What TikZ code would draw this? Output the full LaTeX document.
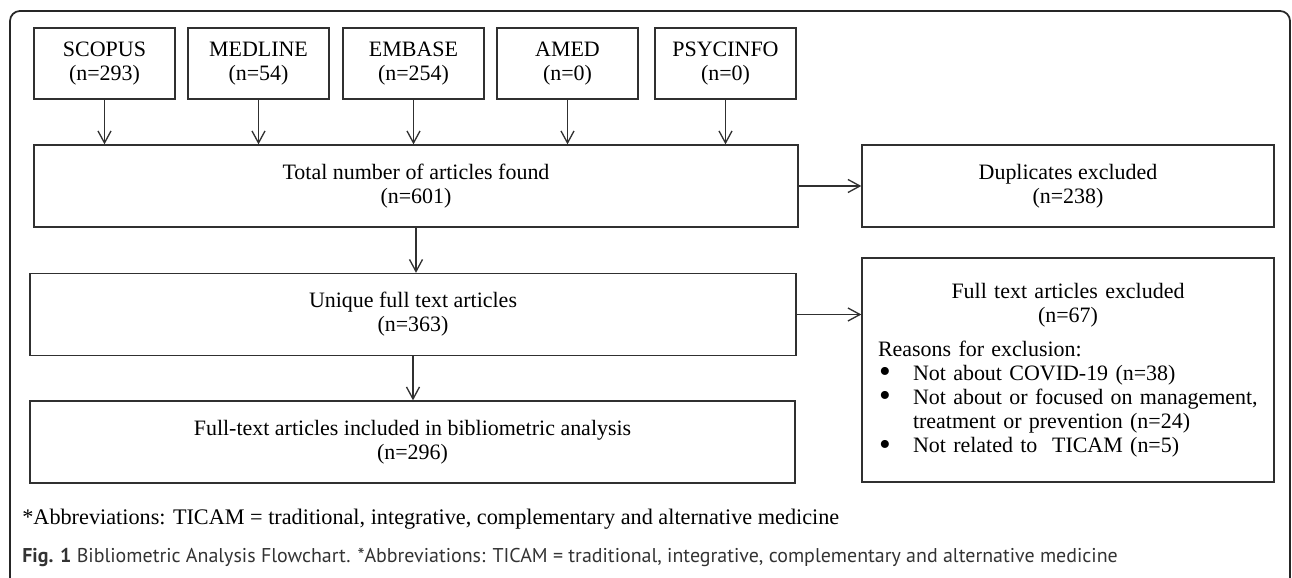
\documentclass[tikz,border=0pt]{standalone}
\usepackage{fontspec}
\setmainfont{Liberation Serif}
\newfontfamily\capfont{PT Sans}
\usepackage{xcolor}
\usetikzlibrary{arrows.meta,positioning}
\definecolor{linegray}{HTML}{303030}
\definecolor{capgray}{HTML}{333333}
\tikzset{
  box/.style={draw=linegray,line width=0.75pt,align=center,font=\fontsize{12.5}{13.7}\selectfont,inner sep=4pt},
  db/.style={box,minimum width=2.82cm,minimum height=1.42cm},
  wide/.style={box,minimum height=1.64cm},
  arr/.style={-{Straight Barb[length=2.4mm,width=2.6mm]},draw=linegray,line width=0.75pt},
}
\newcommand{\bul}{\makebox[0.7cm][l]{\hspace{0.02cm}\smash{\raisebox{-0.12em}{\fontsize{19}{0}\selectfont\textbullet}}}}

\begin{document}
\begin{tikzpicture}
\useasboundingbox (0,0) rectangle (25.84,-11.56);
% frame
\draw[line width=1pt,draw=black!85,rounded corners=0.2cm] (0.2,-11.56) -- (0.2,-0.22) -- (25.8,-0.22) -- (25.8,-11.56);
% databases
\node[db] (scopus) at (2.09,-1.27) {SCOPUS\\(n=293)};
\node[db] (medline) at (5.17,-1.27) {MEDLINE\\(n=54)};
\node[db] (embase) at (8.27,-1.27) {EMBASE\\(n=254)};
\node[db] (amed) at (11.35,-1.27) {AMED\\(n=0)};
\node[db] (psyc) at (14.51,-1.27) {PSYCINFO\\(n=0)};
% main column
\node[wide,minimum width=15.28cm] (tot) at (8.32,-3.72) {Total number of articles found\\(n=601)};
\node[wide,minimum width=15.32cm] (uniq) at (8.26,-6.29) {Unique full text articles\\(n=363)};
\node[wide,minimum width=15.30cm] (incl) at (8.25,-8.84) {Full-text articles included in bibliometric analysis\\(n=296)};
% right column
\node[wide,minimum width=8.24cm] (dup) at (21.36,-3.72) {Duplicates excluded\\(n=238)};
\node[box,text width=7.6cm,inner xsep=0.32cm,minimum height=4.48cm,align=left] (excl) at (21.36,-7.40)
  {\makebox[\linewidth]{Full text articles excluded}\\\makebox[\linewidth]{(n=67)}\\[5.7pt]
   Reasons for exclusion:\\
   \bul Not about COVID-19 (n=38)\\
   \bul\mbox{Not about or focused on management,}\\
   \hspace*{0.7cm}treatment or prevention (n=24)\\
   \bul Not related to~ TICAM (n=5)};
% arrows
\draw[arr] (scopus) -- (scopus |- tot.north);
\draw[arr] (medline) -- (medline |- tot.north);
\draw[arr] (embase) -- (embase |- tot.north);
\draw[arr] (amed) -- (amed |- tot.north);
\draw[arr] (psyc) -- (psyc |- tot.north);
\draw[arr] (tot.south) -- (tot.south |- uniq.north);
\draw[arr] (uniq.south) -- (uniq.south |- incl.north);
\draw[arr] (tot.east) -- (dup.west);
\draw[arr] (uniq.east) -- (uniq.east -| excl.west);
% notes
\node[anchor=west,inner sep=0,font=\fontsize{12.65}{14}\selectfont] (abbr) at (0.44,-10.38)
  {*Abbreviations: TICAM = traditional, integrative, complementary and alternative medicine};
\node[anchor=west,inner sep=0,font=\capfont\fontsize{11.35}{12}\selectfont,text=capgray] (cap) at (0.44,-11.14)
  {\textbf{Fig. 1} Bibliometric Analysis Flowchart. *Abbreviations: TICAM = traditional, integrative, complementary and alternative medicine};
\end{tikzpicture}
\end{document}
